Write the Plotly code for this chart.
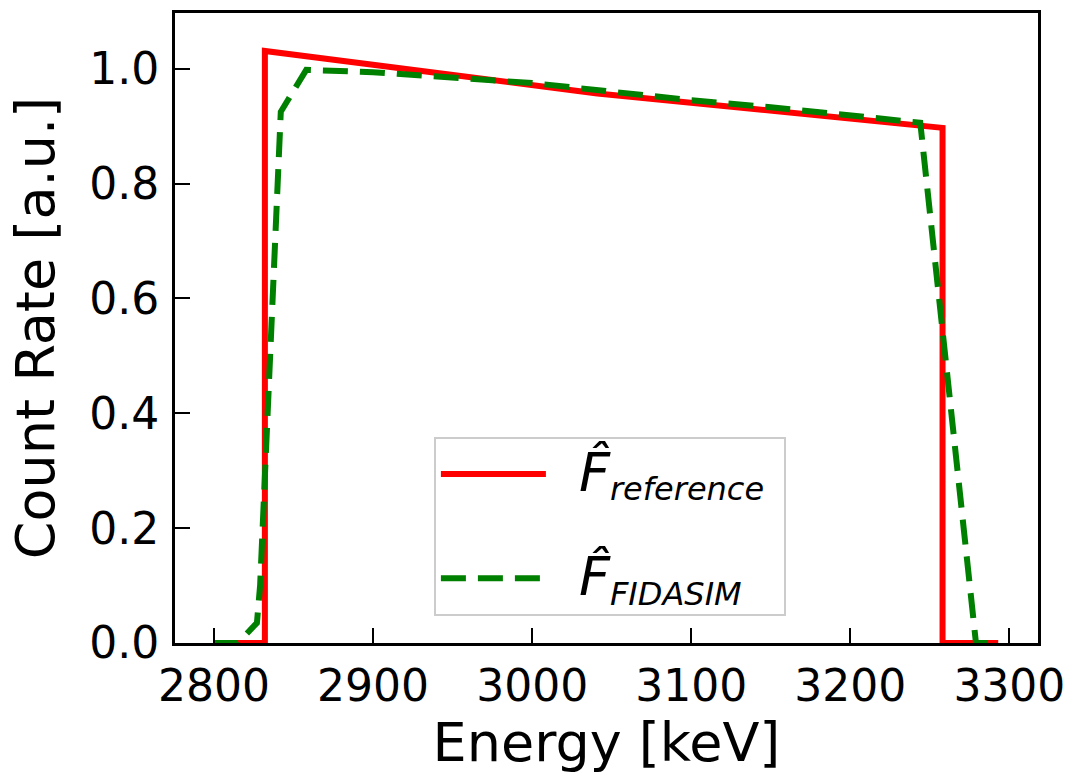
import plotly.graph_objects as go

# Reference curve (F_reference)
ref_energy = [2800, 2832, 2832, 3041, 3258, 3258, 3293]
ref_rate = [0.0, 0.0, 1.031, 0.957, 0.897, 0.0, 0.0]

# FIDASIM curve (F_FIDASIM)
fid_energy = [2800, 2815, 2827, 2829, 2842, 2858, 2900, 2950, 3000, 3050, 3100, 3150, 3200, 3244, 3279, 3293]
fid_rate = [0.0, 0.0, 0.035, 0.10, 0.925, 0.998, 0.994, 0.984, 0.975, 0.960, 0.945, 0.933, 0.920, 0.906, 0.0, 0.0]

x_ticks = [2800, 2900, 3000, 3100, 3200, 3300]
y_ticks = [0.0, 0.2, 0.4, 0.6, 0.8, 1.0]
y_tick_text = ["0.0", "0.2", "0.4", "0.6", "0.8", "1.0"]

FONT = "DejaVu Sans"
GAP = "\u00a0\u00a0"
FHAT = '<span style="font-size:54px"><i>F\u0302</i></span>'


def sub(txt):
    return '<sub><span style="font-size:32px"><i>' + txt + '</i></span></sub>'


fig = go.Figure()
fig.add_trace(go.Scatter(
    x=ref_energy, y=ref_rate, mode="lines",
    line=dict(color="#ff0000", width=6),
    legendgroup="ref",
    name=GAP + FHAT + sub("reference") + "\u00a0",
))
fig.add_trace(go.Scatter(
    x=fid_energy, y=fid_rate, mode="lines",
    line=dict(color="#008000", width=6, dash="25px,12px"),
    legendgroup="fid",
    name=GAP + FHAT + sub("FIDASIM"),
))

fig.update_layout(
    width=1075, height=778,
    margin=dict(l=175, r=32, t=10, b=135),
    paper_bgcolor="white", plot_bgcolor="white",
    font=dict(family=FONT, color="black", size=44),
    showlegend=True,
    legend=dict(
        x=0.30, y=0.327, xanchor="left", yanchor="top",
        bgcolor="white", bordercolor="#cccccc", borderwidth=2,
        font=dict(family=FONT, size=44, color="black"),
        itemwidth=105,
        traceorder="grouped",
        tracegroupgap=44,
    ),
    xaxis=dict(
        range=[2775.5, 3318],
        tickvals=x_ticks, ticktext=[str(v) for v in x_ticks],
        ticks="inside", ticklen=15, tickwidth=2, tickcolor="black",
        showline=True, linecolor="black", linewidth=3, mirror=True,
        showgrid=False, zeroline=False,
        tickfont=dict(family=FONT, size=44),
        ticklabelstandoff=2,
        title=dict(text="Energy [keV]", font=dict(family=FONT, size=54), standoff=12),
    ),
    yaxis=dict(
        range=[0, 1.097],
        tickvals=y_ticks, ticktext=y_tick_text,
        ticks="inside", ticklen=15, tickwidth=2, tickcolor="black",
        showline=True, linecolor="black", linewidth=3, mirror=True,
        showgrid=False, zeroline=False,
        tickfont=dict(family=FONT, size=44),
        ticklabelstandoff=4,
        title=dict(text="Count Rate [a.u.]", font=dict(family=FONT, size=54), standoff=18),
    ),
)

fig.write_html("out.html")
